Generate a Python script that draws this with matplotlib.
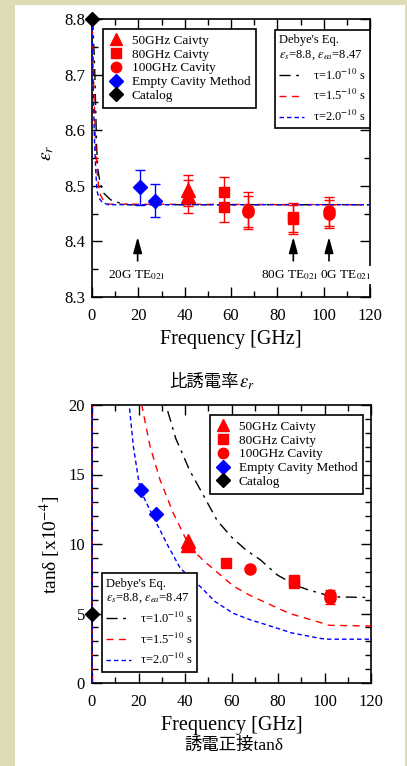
import matplotlib
matplotlib.use('Agg')
import matplotlib.pyplot as plt
from matplotlib.lines import Line2D
from matplotlib.patches import Rectangle
from matplotlib.ticker import MultipleLocator, FormatStrFormatter

plt.rcParams['font.family'] = 'Liberation Serif'
plt.rcParams['mathtext.fontset'] = 'stix'

# ---------------- measured data ----------------
# relative permittivity (top panel)
cav50_f = [41.5, 41.5]
cav50_er = [8.492, 8.481]
cav50_er_err = [0.028, 0.030]

cav80_f = [57.0, 57.0, 86.9, 86.9]
cav80_er = [8.488, 8.461, 8.443, 8.440]
cav80_er_err = [0.028, 0.027, 0.026, 0.026]

cav100_f = [67.4, 67.4, 102.3, 102.3]
cav100_er = [8.457, 8.452, 8.454, 8.450]
cav100_er_err = [0.031, 0.030, 0.026, 0.025]

empty_f = [20.7, 27.2]
empty_er = [8.497, 8.473]
empty_er_err = [0.031, 0.030]

catalog_f = [0.0]
catalog_er = [8.8]
catalog_tan = [5.0]

# loss tangent x1e-4 (bottom panel)
cav50_tan = [10.2, 9.93]
cav80_tan_f = [57.7, 86.9, 86.9]
cav80_tan = [8.61, 7.41, 7.2]
cav100_tan_f = [67.9, 102.3, 102.3]
cav100_tan = [8.18, 6.3, 6.1]
cav100_tan_err = [0.0, 0.4, 0.4]
empty_tan_f = [21.1, 27.5]
empty_tan = [13.88, 12.16]

# Debye curves
er_f_t10 = [0, 0.5, 1.0, 1.3, 1.7, 2.0, 2.5, 3.5, 5, 8, 12, 16, 120]
er_t10 = [8.8, 8.78, 8.73, 8.69, 8.62, 8.57, 8.53, 8.505, 8.487, 8.475, 8.469, 8.466, 8.466]
er_f_t15 = [0, 0.3, 0.7, 1.0, 1.5, 2.0, 2.5, 3.5, 5, 7, 120]
er_t15 = [8.8, 8.76, 8.69, 8.65, 8.58, 8.54, 8.51, 8.485, 8.473, 8.467, 8.466]
er_f_t20 = [0, 0.3, 0.6, 1.0, 1.3, 1.7, 2.2, 3, 4.5, 7, 120]
er_t20 = [8.8, 8.74, 8.66, 8.59, 8.56, 8.52, 8.49, 8.478, 8.47, 8.466, 8.466]

tan_f_t10 = [0, 0, 31.8, 36, 42, 46.6, 53.8, 60, 66, 72.5, 79.7, 88, 93, 98.4, 103, 120]
tan_t10 = [0, 40, 20, 17.6, 15.3, 13.9, 11.7, 10.5, 9.6, 8.85, 7.77, 7.0, 6.7, 6.45, 6.2, 6.15]
tan_f_t15 = [0, 0, 21.4, 25, 29.3, 35, 42, 48, 55, 61, 68, 75.4, 85, 97, 102, 120]
tan_t15 = [0, 40, 20, 17.0, 14.6, 12.2, 9.8, 8.8, 7.8, 6.95, 6.3, 5.73, 5.0, 4.41, 4.15, 4.1]
tan_f_t20 = [0, 0, 16, 17.8, 20.7, 26.5, 32.9, 38, 46.6, 53, 60.9, 68, 75.4, 86, 98.4, 102, 120]
tan_t20 = [0, 40, 20, 17.0, 13.9, 11.9, 9.8, 8.25, 6.93, 5.85, 5.0, 4.55, 4.17, 3.6, 3.2, 3.15, 3.15]

tau_labels = ['τ=1.0$^{-10}$ s', 'τ=1.5$^{-10}$ s', 'τ=2.0$^{-10}$ s']
marker_labels = ['50GHz Caivty', '80GHz Caivty', '100GHz Cavity', 'Empty Cavity Method', 'Catalog']

W, H = 407, 766
BG = '#dddcb6'
RED = '#ff0000'
BLUE = '#0000ff'

styles = [dict(color='black', dashes=(8, 4, 2, 4)),
          dict(color=RED, dashes=(5, 4)),
          dict(color=BLUE, dashes=(3.2, 2.2))]

fig = plt.figure(figsize=(W / 100, H / 100), dpi=100, facecolor=BG)
fig.patches.append(Rectangle((15 / W, 0), 390 / W, 761 / H, transform=fig.transFigure,
                             facecolor='white', edgecolor='none', zorder=-10))

ax1 = fig.add_axes([92 / W, 1 - 297 / H, 278 / W, 278 / H])
ax2 = fig.add_axes([92 / W, 1 - 683 / H, 279 / W, 278 / H])


def style_axes(ax):
    ax.tick_params(which='both', direction='in', top=True, right=True, labelsize=12, width=1.0)
    ax.tick_params(which='major', length=7, pad=5)
    ax.tick_params(which='minor', length=4)
    ax.tick_params(axis='x', pad=8)
    for s in ax.spines.values():
        s.set_linewidth(1.2)
    ax.set_xlim(0, 120)
    ax.xaxis.set_major_locator(MultipleLocator(20))
    ax.xaxis.set_minor_locator(MultipleLocator(10))
    ax.set_xlabel('Frequency [GHz]', fontsize=14.5, labelpad=4)


def marker_legend(ax, anchor):
    hs = [Line2D([], [], ls='none', marker='^', color=RED, ms=8.5),
          Line2D([], [], ls='none', marker='s', color=RED, ms=7),
          Line2D([], [], ls='none', marker='o', color=RED, ms=7.5),
          Line2D([], [], ls='none', marker='D', color=BLUE, ms=7),
          Line2D([], [], ls='none', marker='D', color='black', ms=7)]
    leg = ax.legend(handles=hs, labels=marker_labels, loc='upper left', bbox_to_anchor=anchor,
                    borderaxespad=0, fontsize=9.5, frameon=True, fancybox=False,
                    edgecolor='black', framealpha=1, labelspacing=0.12, handletextpad=0.55,
                    handlelength=1.2, borderpad=0.42)
    leg.get_frame().set_linewidth(1.2)
    return leg


def debye_legend(ax, loc, anchor):
    hs = [Line2D([], [], lw=1.0, **st) for st in styles]
    leg = ax.legend(handles=hs, labels=tau_labels, loc=loc, bbox_to_anchor=anchor,
                    borderaxespad=0, fontsize=9, title_fontsize=9, alignment='left',
                    title="Debye's Eq.\n" + r'$\varepsilon_s$=8.8, $\varepsilon_{ea}$=8.47',
                    frameon=True, fancybox=False, edgecolor='black', framealpha=1,
                    handlelength=2.0, handletextpad=0.7, labelspacing=0.45, borderpad=0.35)
    leg.get_frame().set_linewidth(1.2)
    return leg


eb = dict(capsize=3.5, elinewidth=1.0, capthick=1.0, zorder=5, ls='none')

# ---------------- top: permittivity ----------------
for fx_, fy_, st in zip([er_f_t10, er_f_t15, er_f_t20], [er_t10, er_t15, er_t20], styles):
    ax1.plot(fx_, fy_, lw=1.0, **st, zorder=3)

ax1.errorbar(cav50_f, cav50_er, yerr=cav50_er_err, marker='^', ms=9.5, color=RED, **eb)
ax1.errorbar(cav80_f, cav80_er, yerr=cav80_er_err, marker='s', ms=7.5, color=RED, **eb)
ax1.errorbar(cav100_f, cav100_er, yerr=cav100_er_err, marker='o', ms=8, color=RED, **eb)
ax1.errorbar(empty_f, empty_er, yerr=empty_er_err, marker='D', ms=7.5, color=BLUE, **eb)
ax1.plot(catalog_f, catalog_er, ls='none', marker='D', ms=7.5, color='black', clip_on=False, zorder=6)

style_axes(ax1)
ax1.set_ylim(8.3, 8.8)
ax1.yaxis.set_major_locator(MultipleLocator(0.1))
ax1.yaxis.set_minor_locator(MultipleLocator(0.05))
ax1.yaxis.set_major_formatter(FormatStrFormatter('%.1f'))

for f in [19.7, 86.9, 102.3]:
    ax1.annotate('', xy=(f, 8.408), xytext=(f, 8.365),
                 arrowprops=dict(arrowstyle='-|>,head_length=0.8,head_width=0.22',
                                 color='black', lw=1.2, mutation_scale=12, shrinkA=0, shrinkB=0))
ax1.text(19.3, 8.34, '20G TE$_{021}$', ha='center', va='center', fontsize=9.5)
ax1.text(106.7, 8.34, '100G TE$_{021}$', ha='center', va='center', fontsize=9.5,
         bbox=dict(fc='white', ec='none', pad=1.5), clip_on=False, zorder=6)
ax1.text(85.2, 8.34, '80G TE$_{021}$', ha='center', va='center', fontsize=9.5,
         bbox=dict(fc='white', ec='none', pad=1.0), clip_on=False, zorder=7)

leg_a = marker_legend(ax1, (0.0396, 0.964))
ax1.add_artist(leg_a)
debye_legend(ax1, 'upper right', (1.0, 0.96))

# ---------------- bottom: loss tangent ----------------
for fx_, fy_, st in zip([tan_f_t10, tan_f_t15, tan_f_t20], [tan_t10, tan_t15, tan_t20], styles):
    ax2.plot(fx_, fy_, lw=1.0, **st, zorder=3)

ax2.plot(cav50_f, cav50_tan, ls='none', marker='^', ms=9.5, color=RED, zorder=5)
ax2.plot(cav80_tan_f, cav80_tan, ls='none', marker='s', ms=7.5, color=RED, zorder=5)
ax2.errorbar(cav100_tan_f, cav100_tan, yerr=cav100_tan_err, marker='o', ms=8, color=RED, **eb)
ax2.plot(empty_tan_f, empty_tan, ls='none', marker='D', ms=7.5, color=BLUE, zorder=5)
ax2.plot(catalog_f, catalog_tan, ls='none', marker='D', ms=7.5, color='black', clip_on=False, zorder=6)

style_axes(ax2)
ax2.set_ylim(0, 20)
ax2.yaxis.set_major_locator(MultipleLocator(5))
ax2.yaxis.set_minor_locator(MultipleLocator(1))

leg_b = marker_legend(ax2, (0.423, 0.964))
ax2.add_artist(leg_b)
debye_legend(ax2, 'lower left', (0.035, 0.041))

# ---------------- labels & captions ----------------
fig.text(47 / W, 1 - 153 / H, r'$\varepsilon_r$', rotation=90, fontsize=14, ha='center', va='center')
fig.text(50 / W, 1 - 545 / H, 'tanδ [x10$^{-4}$]', rotation=90, fontsize=14,
         ha='center', va='center')

cjk = ['Noto Sans CJK JP', 'DejaVu Sans']
fig.text(239 / W, 1 - 382 / H, '比誘電率', family=cjk, fontsize=12.5, ha='right', va='center')
fig.text(239 / W, 1 - 383 / H, r'$\varepsilon_r$', fontsize=13.5, ha='left', va='center')
fig.text(234 / W, 1 - 746 / H, '誘電正接tanδ', family=['Liberation Serif', 'Noto Sans CJK JP'],
         fontsize=12.5, ha='center', va='center')

fig.savefig('out.png', dpi=100, facecolor=BG)
